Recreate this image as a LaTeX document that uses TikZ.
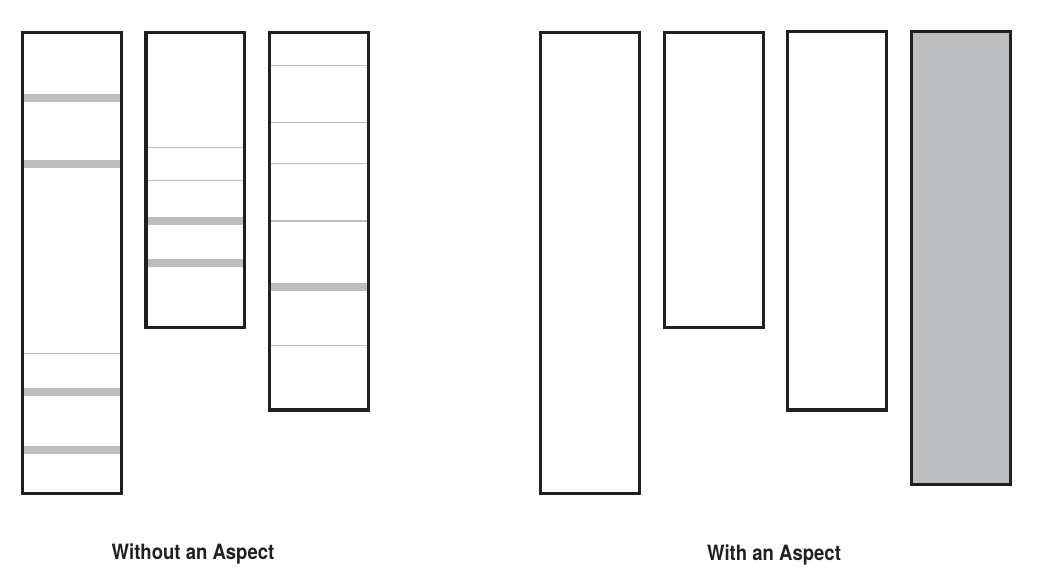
\documentclass[tikz,border=0pt]{standalone}
\usepackage{fontspec}
\setmainfont{TeX Gyre Heros}
\newfontfamily\capfont[FakeStretch=0.88]{TeX Gyre Heros}
\definecolor{ink}{HTML}{231F20}
\definecolor{band}{HTML}{BCBEC0}
\tikzset{
  frame/.style={draw=ink, line width=2.3pt},
  joinpt/.style={draw=band, line width=5.8pt},
  split/.style={draw=band, line width=0.8pt},
  caption/.style={font=\capfont\bfseries\fontsize{15.8}{18}\selectfont, text=ink, inner sep=0pt}
}

\begin{document}
\begin{tikzpicture}[x=0.75pt, y=-0.75pt]
				%%%%% START %%%%%
				\useasboundingbox (0,0) rectangle (1044,585);
				\def\top{32.3}
				% left group: columns cut into pieces
				\def\xa{22.7}  \def\xb{121.3}
				\def\xc{146}   \def\xd{244.5}
				\def\xe{269.5} \def\xf{368.5}

				\draw[split] (\xa,353.3) -- (\xb,353.3);
				\draw[joinpt] (\xa,98) -- (\xb,98);
				\draw[joinpt] (\xa,164) -- (\xb,164);
				\draw[joinpt] (\xa,392) -- (\xb,392);
				\draw[joinpt] (\xa,450) -- (\xb,450);
				\draw[frame] (\xa,\top) rectangle (\xb,493.3);

				\draw[split] (\xc,147.3) -- (\xd,147.3);
				\draw[split] (\xc,180.3) -- (\xd,180.3);
				\draw[joinpt] (\xc,221) -- (\xd,221);
				\draw[joinpt] (\xc,263) -- (\xd,263);
				\draw[frame] (\xc,\top) rectangle (\xd,327.5);

				\draw[split] (\xe,65.5) -- (\xf,65.5);
				\draw[split] (\xe,122.5) -- (\xf,122.5);
				\draw[split] (\xe,163.3) -- (\xf,163.3);
				\draw[split] (\xe,221) -- (\xf,221);
				\draw[joinpt] (\xe,287) -- (\xf,287);
				\draw[split] (\xe,345.3) -- (\xf,345.3);
				\draw[frame] (\xe,\top) rectangle (\xf,410);

				% right group: whole columns
				\draw[frame] (540.5,32.7) rectangle (639.2,493.2);
				\draw[frame] (664.5,32.7) rectangle (763.5,327.5);
				\draw[frame] (787.5,31.5) rectangle (886.8,410);
				\draw[frame, fill=band] (911.5,31.7) rectangle (1010.2,484.3);

				\node[caption] (without) at (193,554) {Without an Aspect};
				\node[caption] (with) at (774,555) {With an Aspect};
				%%%%% START %%%%%
			\end{tikzpicture}
\end{document}
